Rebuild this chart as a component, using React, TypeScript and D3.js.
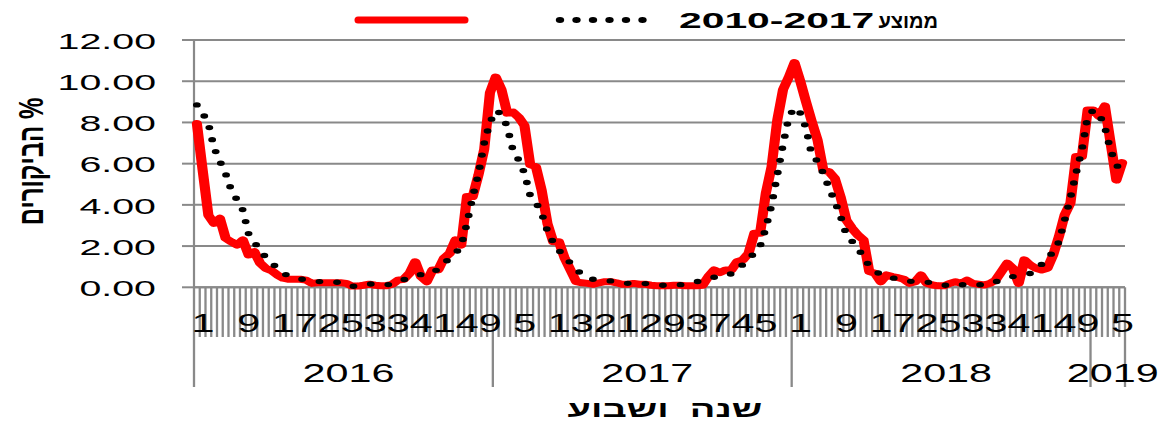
import React from 'react';
import * as d3 from 'd3';

// ---------- data ----------
const years = ['2016', '2017', '2018', '2019'];
const weeksPerYear = [52, 52, 52, 6];

// % visits, current seasons (red line), week by week from 2016 w1 to 2019 w6
const visitsPct = [
  7.95, 5.7, 3.5, 3.1, 3.35, 2.38, 2.21, 2.05, 2.3, 1.57,
  1.73, 1.17, 0.92, 0.81, 0.6, 0.44, 0.39, 0.39, 0.39, 0.35,
  0.19, 0.22, 0.22, 0.22, 0.22, 0.22, 0.19, 0.06, 0.06, 0.1,
  0.15, 0.1, 0.08, 0.08, 0.15, 0.35, 0.39, 0.68, 1.24, 0.52,
  0.27, 0.84, 0.84, 1.41, 1.65, 2.3, 2.05, 4.4, 4.4, 5.45,
  6.7, 9.45, 10.2, 9.6, 8.45, 8.5, 8.25, 7.85, 5.95, 5.85,
  4.7, 3.1, 2.21, 2.21, 1.41, 0.84, 0.27, 0.22, 0.19, 0.15,
  0.22, 0.27, 0.27, 0.22, 0.15, 0.15, 0.19, 0.15, 0.15, 0.1,
  0.08, 0.08, 0.08, 0.1, 0.1, 0.08, 0.08, 0.08, 0.1, 0.52,
  0.84, 0.71, 0.84, 0.84, 1.24, 1.33, 1.65, 2.62, 2.62, 4.56,
  5.85, 8.12, 9.6, 10.2, 10.9, 10.0, 9.0, 8.04, 7.15, 5.69,
  5.61, 5.29, 4.4, 3.27, 2.86, 2.54, 2.3, 0.76, 0.68, 0.27,
  0.6, 0.52, 0.47, 0.39, 0.19, 0.27, 0.6, 0.19, 0.11, 0.07,
  0.07, 0.19, 0.27, 0.19, 0.35, 0.19, 0.15, 0.11, 0.19, 0.35,
  0.76, 1.17, 0.92, 0.19, 1.33, 1.08, 0.92, 0.84, 0.92, 1.57,
  2.46, 3.51, 4.08, 6.35, 6.35, 8.6, 8.6, 8.3, 8.8, 7.0,
  5.2, 6.05,
];

// average 2010-2017 (dotted line)
const average2010to2017 = [
  8.85, 8.46, 7.95, 6.76, 6.12, 5.52, 4.7, 4.24, 3.75, 2.6,
  2.18, 1.82, 1.45, 1.19, 0.93, 0.68, 0.55, 0.48, 0.4, 0.36,
  0.32, 0.28, 0.27, 0.27, 0.27, 0.21, 0.12, 0.04, 0.07, 0.11,
  0.16, 0.15, 0.13, 0.11, 0.18, 0.27, 0.37, 0.46, 0.55, 0.62,
  0.64, 0.68, 0.91, 1.17, 1.4, 1.64, 2.02, 3.1, 4.4, 5.5,
  7.0, 8.0, 8.58, 8.4, 7.8, 6.64, 6.18, 5.54, 4.45, 4.12,
  3.59, 2.73, 2.18, 1.79, 1.47, 1.18, 0.86, 0.64, 0.46, 0.38,
  0.36, 0.33, 0.31, 0.27, 0.22, 0.19, 0.19, 0.19, 0.18, 0.15,
  0.12, 0.1, 0.1, 0.1, 0.12, 0.17, 0.21, 0.27, 0.36, 0.44,
  0.49, 0.49, 0.53, 0.66, 0.79, 1.11, 1.42, 1.63, 1.97, 2.87,
  3.98, 5.45, 6.93, 8.25, 8.73, 8.45, 7.72, 6.4, 6.12, 5.53,
  4.82, 4.18, 3.45, 2.56, 2.24, 1.89, 1.49, 1.03, 0.82, 0.6,
  0.52, 0.46, 0.4, 0.35, 0.3, 0.25, 0.24, 0.24, 0.24, 0.19,
  0.12, 0.05, 0.07, 0.11, 0.16, 0.14, 0.13, 0.11, 0.17, 0.27,
  0.35, 0.44, 0.52, 0.59, 0.63, 0.67, 0.84, 1.12, 1.41, 1.72,
  2.2, 3.27, 4.33, 5.55, 6.65, 8.3, 8.6, 8.42, 7.76, 6.63,
  5.99, 5.4,
];

const yTicks = [0, 2, 4, 6, 8, 10, 12];
const legendHebrew = 'ממוצע';
const legendYears = '2010-2017';
const xTitle = 'שנה  ושבוע';
const yTitle = '% הביקורים';

// ---------- layout ----------
const W = 1168;
const H = 424;
const X0 = 194;
const X1 = 1125;
const SX = 1.45; // horizontal stretch of the original picture
const FONT = 'Liberation Sans, Arial, sans-serif';
const GRID = '#898989';

const categories: { year: string; week: number }[] = [];
years.forEach((yr, k) => {
  for (let w = 1; w <= weeksPerYear[k]; w++) categories.push({ year: yr, week: w });
});
const N = categories.length;

export default function App() {
  const xBand = d3.scaleBand<number>().domain(d3.range(N)).range([X0, X1]).padding(0);
  const bw = xBand.bandwidth();
  const xc = (i: number) => (xBand(i) as number) + bw / 2;
  const y = d3.scaleLinear().domain([0, 12]).range([287.3, 40]);

  const line = d3
    .line<number>()
    .x((_, i) => xc(i) / SX)
    .y((d) => y(d));

  const boundaries: number[] = [0];
  weeksPerYear.forEach((n) => boundaries.push(boundaries[boundaries.length - 1] + n));
  const bx = (k: number) => (k >= N ? X1 : (xBand(k) as number));

  return (
    <svg
      width={W}
      height={H}
      style={{ position: 'absolute', left: 0, top: 0, background: '#fff' }}
      fontFamily={FONT}
    >
      <rect x={0} y={0} width={W} height={H} fill="#fff" />

      {/* gridlines */}
      {yTicks.map((t) => (
        <line key={'g' + t} x1={X0} x2={X1} y1={y(t)} y2={y(t)} stroke={GRID} strokeWidth={2} />
      ))}
      {/* y axis */}
      <line x1={X0} x2={X0} y1={y(12)} y2={y(0)} stroke={GRID} strokeWidth={2.2} />
      {yTicks.map((t) => (
        <line key={'yt' + t} x1={182} x2={X0} y1={y(t)} y2={y(t)} stroke={GRID} strokeWidth={2} />
      ))}
      {yTicks.map((t) => (
        <text
          key={'yl' + t}
          transform={`translate(156,${y(t) + 8.8}) scale(1.83,1)`}
          textAnchor="end"
          fontSize={21.5}
          fill="#000"
        >
          {t.toFixed(2)}
        </text>
      ))}

      {/* x axis ticks */}
      {d3.range(N + 1).map((k) => (
        <line key={'xt' + k} x1={bx(k)} x2={bx(k)} y1={y(0)} y2={337} stroke={GRID} strokeWidth={2.3} />
      ))}
      {boundaries.map((k) => (
        <line key={'yd' + k} x1={bx(k)} x2={bx(k)} y1={337} y2={387} stroke={GRID} strokeWidth={2.3} />
      ))}
      {categories.map((c, i) =>
        i % 8 === 0 ? (
          <text
            key={'wl' + i}
            transform={`translate(${xc(i) + 6},332) scale(1.62,1)`}
            textAnchor="middle"
            fontSize={25.5}
            fill="#000"
          >
            {c.week}
          </text>
        ) : null
      )}
      {years.map((yr, k) => (
        <text
          key={'yr' + yr}
          transform={`translate(${(bx(boundaries[k]) + bx(boundaries[k + 1])) / 2 + 5},382) scale(1.62,1)`}
          textAnchor="middle"
          fontSize={25.5}
          fill="#000"
        >
          {yr}
        </text>
      ))}
      <line x1={X0} x2={X1} y1={y(0)} y2={y(0)} stroke={GRID} strokeWidth={2} />

      {/* series */}
      <g transform={`scale(${SX},1)`}>
        <path
          d={line(visitsPct) || ''}
          fill="none"
          stroke="#ff0000"
          strokeWidth={7}
          strokeLinejoin="round"
          strokeLinecap="round"
        />
        <path
          d={line(average2010to2017) || ''}
          fill="none"
          stroke="#000"
          strokeWidth={5.4}
          strokeLinecap="round"
          strokeDasharray="0 12.2"
        />
      </g>

      {/* legend */}
      <line x1={358} x2={465} y1={20} y2={20} stroke="#ff0000" strokeWidth={7} strokeLinecap="round" />
      <g transform={`scale(${SX},1)`}>
        <line
          x1={560 / SX}
          x2={659 / SX}
          y1={20}
          y2={20}
          stroke="#000"
          strokeWidth={5.8}
          strokeLinecap="round"
          strokeDasharray={`0 ${99 / 6 / SX}`}
        />
      </g>
      <text
        transform="translate(679,27.5) scale(1.9,1)"
        textAnchor="start"
        fontWeight="bold"
        fontSize={21.5}
        fill="#000"
      >
        {legendYears}
      </text>
      <text x={938} y={27.5} textAnchor="end" fontWeight="bold" fontSize={20} fill="#000">
        {legendHebrew}
      </text>

      {/* axis titles */}
      <text
        transform={`translate(665,417) scale(1.65,1)`}
        textAnchor="middle"
        fontWeight="bold"
        fontSize={23}
        fill="#000"
        style={{ whiteSpace: 'pre' }}
      >
        {xTitle}
      </text>
      <text
        transform={`translate(42.5,161.5) scale(1.45,1) rotate(-90)`}
        textAnchor="middle"
        fontWeight="bold"
        fontSize={24}
        fill="#000"
        direction="rtl"
      >
        {yTitle}
      </text>
    </svg>
  );
}
